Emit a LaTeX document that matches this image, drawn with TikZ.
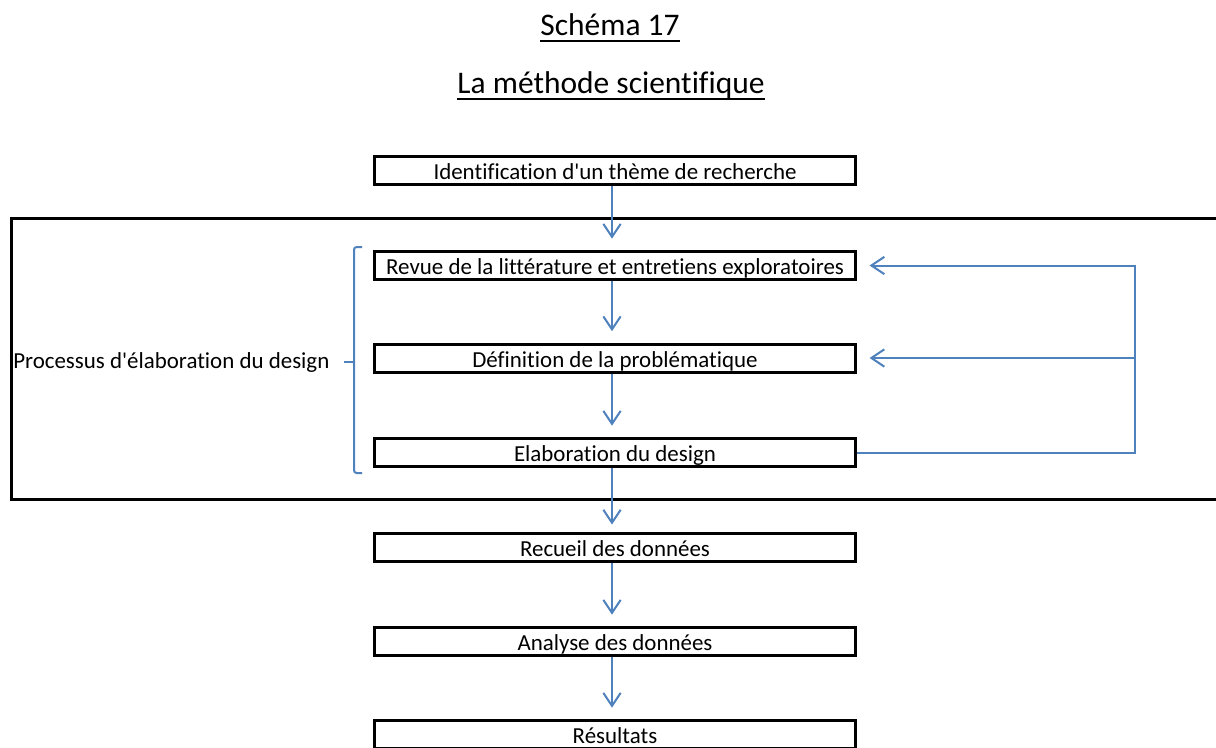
\documentclass[tikz,border=0pt]{standalone}
\usepackage{fontspec}
\setmainfont{Carlito}[Ligatures={TeX,CommonOff}]
\usetikzlibrary{arrows.meta}
\definecolor{arrowblue}{RGB}{79,129,189}
\newcommand{\apos}{\textquotesingle}
\begin{document}
\begin{tikzpicture}[x=0.75pt,y=-0.75pt,
  stepbox/.style={draw=black, line width=2.25pt, minimum width=360.75pt, minimum height=21pt, inner sep=0pt, text height=16pt, text depth=1.8pt, font=\fontsize{17.2}{20}\selectfont},
  flow/.style={draw=arrowblue, line width=1.5pt, shorten >=8.5pt, -{Straight Barb[length=9.75pt,width=13pt]}},
  feed/.style={draw=arrowblue, line width=1.5pt},
  titletext/.style={font=\fontsize{23.6}{28}\selectfont, inner sep=0pt, anchor=base},
  uline/.style={draw=black, line width=1.5pt},
  frameline/.style={draw=black, line width=2.25pt}]
\useasboundingbox (0,0) rectangle (1216,747);

% titles
\node[titletext] (t1) at (610,35) {Schéma 17};
\node[titletext] (t2) at (611,93) {La méthode scientifique};
\draw[uline] ([yshift=-4.5pt]t1.base west) -- ([yshift=-4.5pt]t1.base east);
\draw[uline] ([yshift=-4.5pt]t2.base west) -- ([yshift=-4.5pt]t2.base east);

% frame
\draw[frameline] (1230,218) -- (11,218) -- (11,499) -- (1230,499);

% boxes
\node[stepbox] (b1) at (615,170.5) {Identification d\apos un thème de recherche};
\node[stepbox] (b2) at (615,265.5) {Revue de la littérature et entretiens exploratoires};
\node[stepbox] (b3) at (615,358) {Définition de la problématique};
\node[stepbox] (b4) at (615,452.5) {Elaboration du design};
\node[stepbox] (b5) at (615,547.5) {Recueil des données};
\node[stepbox] (b6) at (615,641.5) {Analyse des données};
\node[stepbox] (b7) at (615,734.5) {Résultats};

% label
\node[anchor=west, inner sep=0pt, font=\fontsize{17.2}{20}\selectfont] (lbl) at (13,362) {Processus d\apos élaboration du design};

% brace
\draw[feed, rounded corners=2pt] (362,247) -- (354,247) -- (354,473) -- (362,473);
\draw[feed] (354,362) -- (344,362);

% vertical arrows
\draw[flow] ([xshift=-2.25pt]b1.south) -- ([xshift=-2.25pt]b2.north);
\draw[flow] ([xshift=-2.25pt]b2.south) -- ([xshift=-2.25pt]b3.north);
\draw[flow] ([xshift=-2.25pt]b3.south) -- ([xshift=-2.25pt]b4.north);
\draw[flow, shorten >=5.6pt] ([xshift=-2.25pt]b4.south) -- ([xshift=-2.25pt]b5.north);
\draw[flow] ([xshift=-2.25pt]b5.south) -- ([xshift=-2.25pt]b6.north);
\draw[flow] ([xshift=-2.25pt]b6.south) -- ([xshift=-2.25pt]b7.north);

% feedback loop
\coordinate (rail) at (1135,0);
\draw[flow, shorten >=9.4pt] (b4.east) -- (b4.east -| rail) -- (b2.east -| rail) -- (b2.east);
\draw[flow, shorten >=9.4pt] (b3.east -| rail) -- (b3.east);
\end{tikzpicture}
\end{document}
